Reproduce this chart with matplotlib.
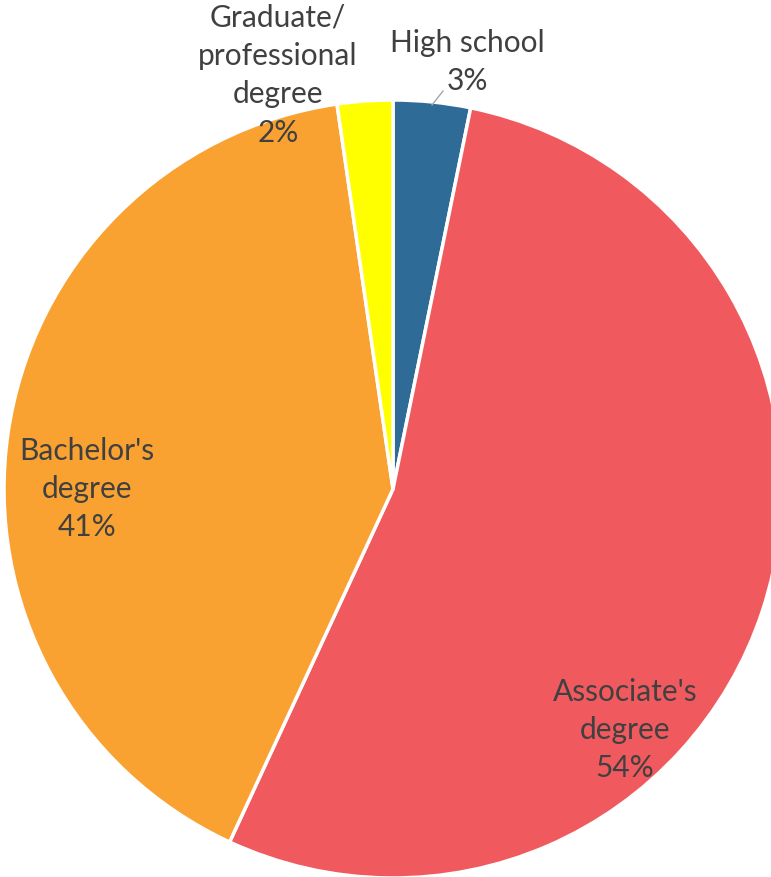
import matplotlib.pyplot as plt

categories = ["High school", "Associate's\ndegree", "Bachelor's\ndegree",
              "Graduate/\nprofessional\ndegree"]
values = [3.2, 53.7, 40.8, 2.3]
colors = ["#2E6B96", "#F05A5E", "#F9A232", "#FFFF00"]

# label anchor positions in pixel coords (x, y from top)
label_pos = [(467, 62), (625, 730), (87, 489), (278, 75)]

W, H = 771, 877
fig = plt.figure(figsize=(W / 100, H / 100), dpi=100)
ax = fig.add_axes([0, 0, 1, 1])

cx, cy, r = 393, H - 489, 389
ax.pie(values, colors=colors, startangle=90, counterclock=False,
       center=(cx, cy), radius=r, frame=True,
       wedgeprops=dict(edgecolor="white", linewidth=2.5))
ax.set_xlim(0, W)
ax.set_ylim(0, H)
ax.axis("off")

total = sum(values)
for name, v, (lx, ly) in zip(categories, values, label_pos):
    txt = "{0}\n{1:.0f}%".format(name, v / total * 100)
    ax.text(lx, H - ly, txt, ha="center", va="center", fontsize=21.5,
            family="Lato", color="#404040", linespacing=1.45)

# leader line for the small slice
ax.plot([432, 443], [H - 105, H - 91], color="#A6A6A6", lw=1)

fig.savefig("out.png", dpi=100)
